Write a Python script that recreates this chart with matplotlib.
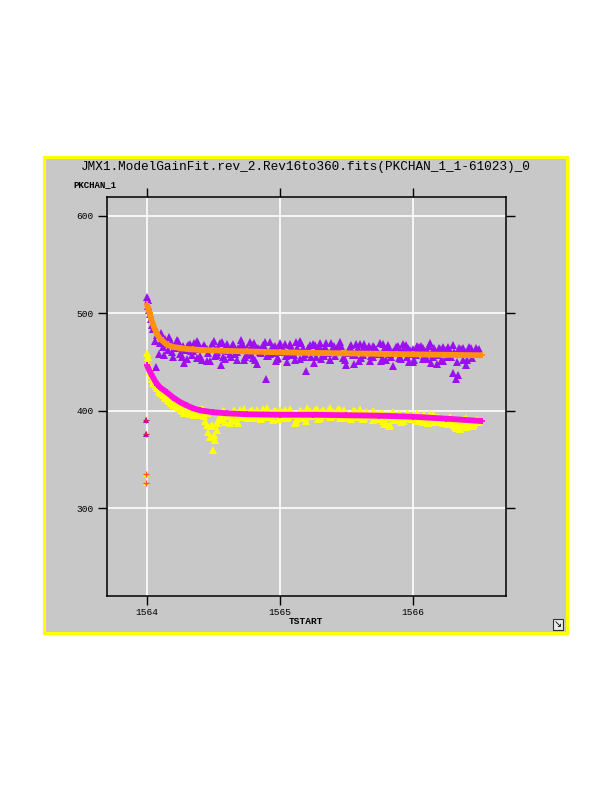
#!/usr/bin/env python3
"""Gain fit plot: PKCHAN_1 vs TSTART with model fits."""

import matplotlib
matplotlib.use("Agg")
import matplotlib.pyplot as plt
from matplotlib.patches import Rectangle

TITLE = "JMX1.ModelGainFit.rev_2.Rev16to360.fits(PKCHAN_1_1-61023)_0"
Y_LABEL = "PKCHAN_1"
X_LABEL = "TSTART"

X_TICKS = [1564, 1565, 1566]
Y_TICKS = [300, 400, 500, 600]

# measured points (shared TSTART grid for both data series)
tstart = [
    1564.00, 1564.005, 1564.01, 1564.015, 1564.02, 1564.03, 1564.04, 1564.05, 1564.06,
    1564.07, 1564.08, 1564.09, 1564.10, 1564.12, 1564.14, 1564.16, 1564.18, 1564.20,
    1564.225, 1564.25, 1564.275, 1564.30, 1564.325, 1564.35, 1564.375, 1564.40,
    1564.425, 1564.45, 1564.475, 1564.50, 1564.525, 1564.55, 1564.575, 1564.60,
    1564.625, 1564.65, 1564.675, 1564.70, 1564.725, 1564.75, 1564.775, 1564.80,
    1564.825, 1564.85, 1564.875, 1564.90, 1564.925, 1564.95, 1564.975, 1565.00,
    1565.025, 1565.05, 1565.075, 1565.10, 1565.125, 1565.15, 1565.175, 1565.20,
    1565.225, 1565.25, 1565.275, 1565.30, 1565.325, 1565.35, 1565.375, 1565.40,
    1565.425, 1565.45, 1565.475, 1565.50, 1565.525, 1565.55, 1565.575, 1565.60,
    1565.625, 1565.65, 1565.675, 1565.70, 1565.725, 1565.75, 1565.775, 1565.80,
    1565.825, 1565.85, 1565.875, 1565.90, 1565.925, 1565.95, 1565.975, 1566.00,
    1566.025, 1566.05, 1566.075, 1566.10, 1566.125, 1566.15, 1566.175, 1566.20,
    1566.225, 1566.25, 1566.275, 1566.30, 1566.325, 1566.35, 1566.375, 1566.40,
    1566.425, 1566.45, 1566.475, 1566.50,
]

upper_data = [
    517, 514, 508, 503, 499, 494, 488, 484, 472,
    445, 478, 458, 470, 466, 474, 462, 471, 455,
    470, 458, 467, 453, 469, 461, 472, 456,
    466, 463, 451, 468, 460, 470, 455, 465,
    458, 469, 452, 463, 467, 457, 471, 454,
    464, 460, 468, 433, 458, 466, 451, 470,
    462, 456, 468, 459, 471, 453, 465, 441,
    461, 469, 455, 464, 458, 470, 452, 466,
    460, 468, 454, 447, 463, 457, 469, 451,
    465, 460, 467, 455, 463, 458, 469, 452,
    464, 460, 466, 454, 462, 468, 450, 463,
    457, 466, 453, 461, 467, 455, 459, 465,
    451, 462, 456, 439, 433, 464, 452, 460,
    466, 454, 461, 463,
]

lower_data = [
    459, 455, 449, 446, 441, 437, 433, 429, 428,
    425, 423, 420, 419, 416, 413, 411, 408, 406,
    405, 403, 400, 399, 397, 401, 398, 396,
    402, 385, 373, 360, 380, 392, 400, 395,
    388, 398, 390, 401, 394, 397, 400, 393,
    399, 396, 402, 394, 398, 391, 400, 395,
    399, 393, 401, 396, 389, 398, 394, 390,
    400, 396, 399, 393, 401, 397, 394, 399,
    396, 401, 393, 398, 395, 400, 394, 397,
    392, 399, 395, 391, 397, 394, 398, 388,
    384, 395, 392, 397, 390, 395, 393, 396,
    391, 395, 389, 394, 392, 396, 390, 393,
    388, 392, 386, 390, 382, 385, 391, 383,
    388, 384, 390, 389,
]

# in-between revolutions
tstart_mid = [
    1564.11, 1564.13, 1564.15, 1564.17, 1564.19,
    1564.2125, 1564.2375, 1564.2625, 1564.2875, 1564.3125, 1564.3375, 1564.3625, 1564.3875, 1564.4125, 1564.4375,
    1564.4625, 1564.4875, 1564.5125, 1564.5375, 1564.5625, 1564.5875, 1564.6125, 1564.6375, 1564.6625, 1564.6875,
    1564.7125, 1564.7375, 1564.7625, 1564.7875, 1564.8125, 1564.8375, 1564.8625, 1564.8875, 1564.9125, 1564.9375,
    1564.9625, 1564.9875, 1565.0125, 1565.0375, 1565.0625, 1565.0875, 1565.1125, 1565.1375, 1565.1625, 1565.1875,
    1565.2125, 1565.2375, 1565.2625, 1565.2875, 1565.3125, 1565.3375, 1565.3625, 1565.3875, 1565.4125, 1565.4375,
    1565.4625, 1565.4875, 1565.5125, 1565.5375, 1565.5625, 1565.5875, 1565.6125, 1565.6375, 1565.6625, 1565.6875,
    1565.7125, 1565.7375, 1565.7625, 1565.7875, 1565.8125, 1565.8375, 1565.8625, 1565.8875, 1565.9125, 1565.9375,
    1565.9625, 1565.9875, 1566.0125, 1566.0375, 1566.0625, 1566.0875, 1566.1125, 1566.1375, 1566.1625, 1566.1875,
    1566.2125, 1566.2375, 1566.2625, 1566.2875, 1566.3125, 1566.3375, 1566.3625, 1566.3875, 1566.4125, 1566.4375,
    1566.4625, 1566.4875,
]

upper_mid = [
    480, 457, 469, 476, 460,
    465, 472, 455, 462, 468, 457, 463, 470, 452, 466,
    459, 469, 456, 464, 471, 453, 461, 467, 458, 465,
    470, 455, 462, 468, 452, 464, 459, 471, 456, 463,
    467, 454, 460, 469, 457, 465, 452, 462, 470, 458,
    464, 455, 468, 461, 453, 466, 459, 470, 456, 463,
    467, 452, 460, 468, 457, 464, 454, 469, 461, 456,
    466, 459, 451, 463, 468, 455, 461, 467, 453, 460,
    465, 458, 452, 463, 467, 456, 460, 449, 464, 457,
    451, 462, 466, 455, 460, 437, 463, 458, 452, 465,
    459, 462,
]

lower_mid = [
    418, 416, 413, 410, 408,
    407, 404, 402, 399, 400, 397, 399, 401, 398, 390,
    378, 385, 370, 391, 398, 389, 396, 392, 399, 388,
    396, 399, 393, 401, 395, 398, 392, 400, 396, 394,
    399, 392, 397, 401, 394, 398, 388, 396, 400, 393,
    398, 395, 401, 392, 399, 396, 400, 394, 397, 402,
    394, 399, 396, 392, 400, 395, 398, 393, 397, 395,
    399, 392, 396, 386, 394, 397, 391, 395, 389, 394,
    397, 392, 395, 390, 393, 396, 388, 392, 395, 391,
    389, 393, 387, 391, 384, 389, 386, 392, 385, 388,
    386, 391,
]

# a third pass of revolutions
tstart_q = [
    1564.23, 1564.255, 1564.28, 1564.305, 1564.33, 1564.355, 1564.38, 1564.405, 1564.43, 1564.455,
    1564.48, 1564.505, 1564.53, 1564.555, 1564.58, 1564.605, 1564.63, 1564.655, 1564.68, 1564.705,
    1564.73, 1564.755, 1564.78, 1564.805, 1564.83, 1564.855, 1564.88, 1564.905, 1564.93, 1564.955,
    1564.98, 1565.005, 1565.03, 1565.055, 1565.08, 1565.105, 1565.13, 1565.155, 1565.18, 1565.205,
    1565.23, 1565.255, 1565.28, 1565.305, 1565.33, 1565.355, 1565.38, 1565.405, 1565.43, 1565.455,
    1565.48, 1565.505, 1565.53, 1565.555, 1565.58, 1565.605, 1565.63, 1565.655, 1565.68, 1565.705,
    1565.73, 1565.755, 1565.78, 1565.805, 1565.83, 1565.855, 1565.88, 1565.905, 1565.93, 1565.955,
    1565.98, 1566.005, 1566.03, 1566.055, 1566.08, 1566.105, 1566.13, 1566.155, 1566.18, 1566.205,
    1566.23, 1566.255, 1566.28, 1566.305, 1566.33, 1566.355, 1566.38, 1566.405, 1566.43, 1566.455,
    1566.48,
]

upper_q = [
    473, 458, 449, 466, 461, 470, 454, 463, 468, 451,
    465, 472, 457, 447, 462, 469, 455, 466, 460, 473,
    452, 464, 458, 470, 448, 463, 467, 456, 471, 459,
    453, 466, 462, 450, 469, 457, 464, 472, 455, 461,
    468, 449, 463, 470, 456, 460, 452, 467, 464, 471,
    454, 459, 466, 448, 462, 469, 457, 463, 451, 467,
    460, 470, 453, 464, 458, 446, 466, 461, 469, 455,
    462, 450, 467, 459, 464, 453, 470, 457, 448, 463,
    466, 455, 461, 468, 450, 459, 464, 447, 462, 458,
    465,
]

lower_q = [
    406, 401, 398, 403, 399, 396, 400, 402, 395, 398,
    384, 375, 388, 393, 400, 397, 391, 401, 395, 398,
    402, 394, 399, 396, 401, 393, 398, 403, 395, 400,
    397, 401, 394, 399, 402, 396, 392, 400, 398, 403,
    395, 399, 402, 394, 400, 397, 403, 396, 399, 393,
    401, 397, 394, 400, 396, 402, 393, 398, 395, 400,
    393, 398, 390, 396, 385, 399, 394, 397, 391, 398,
    395, 392, 398, 390, 396, 393, 397, 389, 394, 391,
    392, 388, 394, 387, 390, 381, 389, 393, 386, 384,
    391,
]

# early outliers just before 1564
outlier_x = [1563.99, 1563.99]
upper_outliers = [391, 376]
lower_outliers = [335, 326]

# model fits
fit_x = [
    1564.00, 1564.02, 1564.04, 1564.06, 1564.08, 1564.10, 1564.15, 1564.20, 1564.25,
    1564.30, 1564.35, 1564.40, 1564.50, 1564.60, 1564.75, 1565.00, 1565.25, 1565.50,
    1565.75, 1566.00, 1566.25, 1566.52,
]
upper_fit = [
    510, 500, 491, 484, 478, 474, 468, 465.5, 464.5,
    463.5, 463, 462.5, 462, 461.5, 461, 460, 459.5, 459,
    458.5, 458, 457.5, 457,
]
lower_fit = [
    447, 441, 436, 431, 427, 424, 419, 413.5, 409,
    405.5, 402.5, 400.5, 398.5, 397.5, 396.5, 396, 396, 395.5,
    395, 394, 392, 389.5,
]

GREY = "#c8c8c8"
PURPLE = "#9a10f0"
ORANGE = "#ff9010"
YELLOW = "#ffff00"
MAGENTA = "#ff10e0"
MONO = "Liberation Mono"


def main() -> None:
    assert len(tstart) == len(upper_data) == len(lower_data)
    assert len(tstart_mid) == len(upper_mid) == len(lower_mid)
    assert len(tstart_q) == len(upper_q) == len(lower_q)

    fig = plt.figure(figsize=(6.12, 7.92), dpi=100)
    fig.patch.set_facecolor("white")

    # grey panel with yellow frame
    fig.add_artist(Rectangle((0.0719, 0.2008), 0.8546, 0.601, transform=fig.transFigure,
                             facecolor=GREY, edgecolor=YELLOW, linewidth=2.2, zorder=0))

    ax = fig.add_axes([0.1748, 0.2475, 0.6515, 0.5038])
    ax.set_facecolor(GREY)
    ax.set_zorder(1)

    tri = dict(linestyle="none", marker="^", markersize=5.6, markeredgewidth=0, zorder=3)
    for xs, ys in [(tstart, upper_data), (tstart_mid, upper_mid), (tstart_q, upper_q)]:
        ax.plot(xs, ys, color=PURPLE, **tri)
    ax.plot(outlier_x, upper_outliers, linestyle="none", marker="^", markersize=4.0,
            color=PURPLE, markeredgewidth=0, zorder=3)
    for xs, ys in [(tstart, lower_data), (tstart_mid, lower_mid), (tstart_q, lower_q)]:
        ax.plot(xs, ys, color=YELLOW, **tri)
    ax.plot(outlier_x, lower_outliers, linestyle="none", marker="^", markersize=4.0,
            color=YELLOW, markeredgewidth=0, zorder=3)

    ax.plot(fit_x, upper_fit, color=ORANGE, linewidth=4.2, marker="+", markersize=5,
            markeredgewidth=1.4, solid_capstyle="butt", zorder=4)
    ax.plot(fit_x, lower_fit, color=MAGENTA, linewidth=4.2, marker="+", markersize=5,
            markeredgewidth=1.4, solid_capstyle="butt", zorder=4)
    ax.plot(outlier_x, lower_outliers, linestyle="none", marker="+", markersize=5,
            markeredgewidth=1.0, color="#ff5030", zorder=5)
    ax.plot(outlier_x, upper_outliers, linestyle="none", marker="+", markersize=4,
            markeredgewidth=0.8, color="#d02060", zorder=5)

    ax.set_xlim(1563.70, 1566.70)
    ax.set_ylim(210, 619.5)
    ax.set_xticks(X_TICKS)
    ax.set_yticks(Y_TICKS)
    ax.set_xticklabels([str(t) for t in X_TICKS], fontfamily=MONO, fontsize=6.8)
    ax.set_yticklabels([str(t) for t in Y_TICKS], fontfamily=MONO, fontsize=6.8)
    ax.tick_params(axis="both", direction="out", length=6.3, width=1.0, color="black",
                   top=True, right=True, labeltop=False, labelright=False)
    ax.tick_params(axis="x", pad=2.5)
    ax.tick_params(axis="y", pad=3.5)
    ax.grid(True, color="white", linewidth=1.2, zorder=1)
    ax.set_axisbelow(True)
    for spine in ax.spines.values():
        spine.set_linewidth(1.1)
        spine.set_color("black")

    fig.text(0.5, 1 - 167 / 792, TITLE, ha="center", va="center",
             fontfamily=MONO, fontsize=9.2)
    fig.text(73 / 612, 1 - 185 / 792, Y_LABEL, ha="left", va="center",
             fontfamily=MONO, fontsize=6.5, fontweight="bold")
    fig.text(306 / 612, 1 - 622 / 792, X_LABEL, ha="center", va="center",
             fontfamily=MONO, fontsize=6.8, fontweight="bold")

    # resize corner icon
    fig.text(558 / 612, 1 - 624.5 / 792, "\u2198", ha="center", va="center", fontsize=7,
             bbox=dict(boxstyle="square,pad=0.08", facecolor="#e8e8e8",
                       edgecolor="#303030", linewidth=0.8))

    fig.savefig("out.png", dpi=100, facecolor="white")


if __name__ == "__main__":
    main()
